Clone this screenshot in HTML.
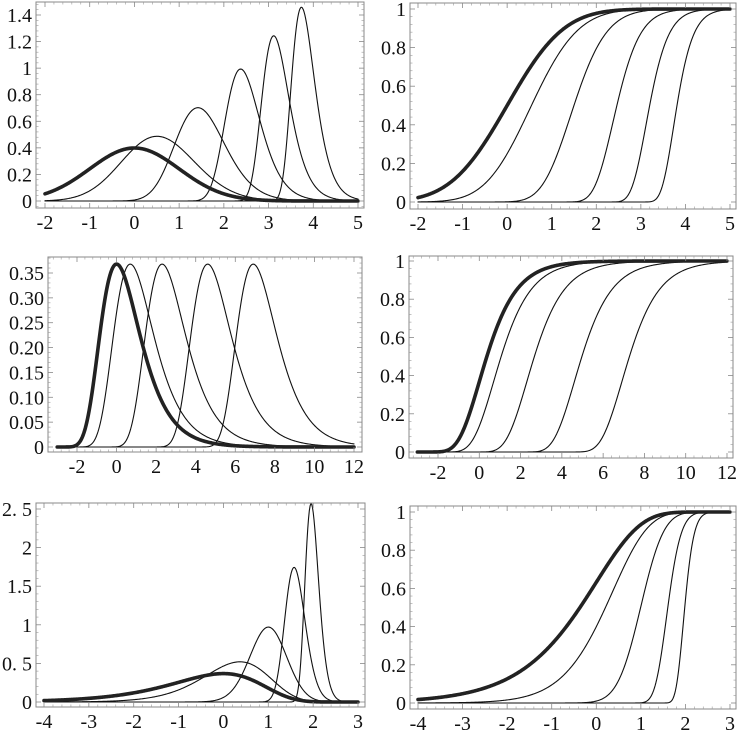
<!DOCTYPE html>
<html><head><meta charset="utf-8"><style>
body{margin:0;background:#fff;}
svg{display:block;}
.lbl{font-family:"Liberation Serif","Times New Roman",serif;font-size:20px;fill:#111;}
</style></head><body>
<svg id="c" width="738" height="738" viewBox="0 0 738 738"></svg>
<script>
// Data: sample sizes n for max-of-n distributions
const nTop = [1, 2, 10, 100, 1000, 10000];
const nMid = [1, 2, 10, 100, 1000];
const nBot = [1, 2, 10, 100, 1000];
// tick labels
const xTicksTop = [-2, -1, 0, 1, 2, 3, 4, 5];
const yTicksTopL = [0, 0.2, 0.4, 0.6, 0.8, 1, 1.2, 1.4];
const yLabTopL = ["0", "0.2", "0.4", "0.6", "0.8", "1", "1.2", "1.4"];
const yTicksCdf = [0, 0.2, 0.4, 0.6, 0.8, 1];
const yLabCdf = ["0", "0.2", "0.4", "0.6", "0.8", "1"];
const xTicksMid = [-2, 0, 2, 4, 6, 8, 10, 12];
const yTicksMidL = [0, 0.05, 0.1, 0.15, 0.2, 0.25, 0.3, 0.35];
const yLabMidL = ["0", "0.05", "0.10", "0.15", "0.20", "0.25", "0.30", "0.35"];
const xTicksBot = [-4, -3, -2, -1, 0, 1, 2, 3];
const yTicksBotL = [0, 0.5, 1, 1.5, 2, 2.5];
const yLabBotL = ["0", "0. 5", "1", "1.5", "2", "2. 5"];

const NS = "http://www.w3.org/2000/svg";
const svg = document.getElementById("c");
function mk(tag, attrs, parent) { const e = document.createElementNS(NS, tag); for (const k in attrs) e.setAttribute(k, attrs[k]); (parent || svg).appendChild(e); return e; }

function erf(x){const s=x<0?-1:1;x=Math.abs(x);const t=1/(1+0.3275911*x);const y=1-(((((1.061405429*t-1.453152027)*t)+1.421413741)*t-0.284496736)*t+0.254829592)*t*Math.exp(-x*x);return s*y;}
const normPdf=x=>Math.exp(-x*x/2)/Math.sqrt(2*Math.PI);
const normCdf=x=>0.5*(1+erf(x/Math.SQRT2));
const gumPdf=x=>Math.exp(-x-Math.exp(-x));
const gumCdf=x=>Math.exp(-Math.exp(-x));
const mgPdf=x=>Math.exp(x-Math.exp(x));
const mgCdf=x=>1-Math.exp(-Math.exp(x));
function maxPdf(pdf,cdf,n){return x=>n*Math.pow(cdf(x),n-1)*pdf(x);}
function maxCdf(cdf,n){return x=>Math.pow(cdf(x),n);}

const panels = [
 {name:"top-left-density", fl:36,fr:364,ft:2,fb:208, xa:-2,xpa:45,xb:5,xpb:358, ya:0,ypa:201,yb:1.4,ypb:15, xt:xTicksTop, xl:xTicksTop.map(String), yt:yTicksTopL, yl:yLabTopL, xmin:-2,xmax:5, ns:nTop, f:n=>maxPdf(normPdf,normCdf,n)},
 {name:"top-right-cdf", fl:410,fr:736,ft:3,fb:209, xa:-2,xpa:418,xb:5,xpb:730, ya:0,ypa:202,yb:1,ypb:9, xt:xTicksTop, xl:xTicksTop.map(String), yt:yTicksCdf, yl:yLabCdf, xmin:-2,xmax:5, ns:nTop, f:n=>maxCdf(normCdf,n)},
 {name:"middle-left-density", fl:48,fr:362,ft:257,fb:452, xa:-2,xpa:77,xb:12,xpb:354, ya:0,ypa:447,yb:0.35,ypb:273, xt:xTicksMid, xl:xTicksMid.map(String), yt:yTicksMidL, yl:yLabMidL, xmin:-3,xmax:12, ns:nMid, f:n=>maxPdf(gumPdf,gumCdf,n)},
 {name:"middle-right-cdf", fl:409,fr:733,ft:256,fb:458, xa:-2,xpa:438,xb:12,xpb:727, ya:0,ypa:452,yb:1,ypb:261, xt:xTicksMid, xl:xTicksMid.map(String), yt:yTicksCdf, yl:yLabCdf, xmin:-3,xmax:12, ns:nMid, f:n=>maxCdf(gumCdf,n)},
 {name:"bottom-left-density", fl:36,fr:365,ft:503,fb:707, xa:-4,xpa:44,xb:3,xpb:358, ya:0,ypa:702,yb:2.5,ypb:509, xt:xTicksBot, xl:xTicksBot.map(String), yt:yTicksBotL, yl:yLabBotL, xmin:-4,xmax:3, ns:nBot, f:n=>maxPdf(mgPdf,mgCdf,n)},
 {name:"bottom-right-cdf", fl:410,fr:736,ft:506,fb:709, xa:-4,xpa:418,xb:3,xpb:730, ya:0,ypa:703,yb:1,ypb:512, xt:xTicksBot, xl:xTicksBot.map(String), yt:yTicksCdf, yl:yLabCdf, xmin:-4,xmax:3, ns:nBot, f:n=>maxCdf(mgCdf,n)}
];

panels.forEach(p=>{
  const g = mk("g",{});
  
  
  const sx = v=>p.xpa+(v-p.xa)*(p.xpb-p.xpa)/(p.xb-p.xa);
  const sy = v=>p.ypa+(v-p.ya)*(p.ypb-p.ypa)/(p.yb-p.ya);
  const order = p.ns.map((n,i)=>i).reverse();
  order.forEach(i=>{
    const fn = p.f(p.ns[i]); const N=400; let d="";
    for(let k=0;k<=N;k++){const x=p.xmin+(p.xmax-p.xmin)*k/N;let y=fn(x);if(!isFinite(y))y=0;d+=(k?"L":"M")+sx(x).toFixed(2)+","+sy(y).toFixed(2);}
    const path = mk("path",{d:d,fill:"none",stroke:i===0?"#222":"#111","stroke-width":i===0?3.6:1.1,"stroke-linejoin":"round","stroke-linecap":"round"},g);
    
    
  });
  const fr = mk("rect",{x:p.fl,y:p.ft,width:p.fr-p.fl,height:p.fb-p.ft,fill:"none",stroke:"#888","stroke-width":1},g);
  
  
  const xs = p.xt; const dx = xs[1]-xs[0];
  for(let i=0;i<xs.length;i++){
    const X=sx(xs[i]);
    mk("line",{x1:X,x2:X,y1:p.fb,y2:p.fb-5,stroke:"#888","stroke-width":0.8},g);
    mk("line",{x1:X,x2:X,y1:p.ft,y2:p.ft+5,stroke:"#888","stroke-width":0.8},g);
    const t = mk("text",{x:X,y:p.fb+21,"text-anchor":"middle","class":"lbl",style:"font-family:'Liberation Serif',serif;font-size:20px"},g);
    t.textContent=p.xl[i];
    
    
    for(let m=-4;m<5;m++){ if(m===0) continue; const v=xs[i]+m*dx/5; if(m<0&&i>0) continue; const XX=sx(v); if(XX<p.fl+1||XX>p.fr-1) continue;
      mk("line",{x1:XX,x2:XX,y1:p.fb,y2:p.fb-2.5,stroke:"#999","stroke-width":0.6},g);
      mk("line",{x1:XX,x2:XX,y1:p.ft,y2:p.ft+2.5,stroke:"#999","stroke-width":0.6},g);}
  }
  const ys = p.yt; const dy = ys[1]-ys[0];
  for(let i=0;i<ys.length;i++){
    const Y=sy(ys[i]);
    mk("line",{x1:p.fl,x2:p.fl+5,y1:Y,y2:Y,stroke:"#888","stroke-width":0.8},g);
    mk("line",{x1:p.fr,x2:p.fr-5,y1:Y,y2:Y,stroke:"#888","stroke-width":0.8},g);
    const t = mk("text",{x:p.fl-4,y:Y+7,"text-anchor":"end","class":"lbl",style:"font-family:'Liberation Serif',serif;font-size:20px"},g);
    t.textContent=p.yl[i];
    
    
    for(let m=-4;m<5;m++){ if(m===0) continue; if(m<0&&i>0) continue; const YY=sy(ys[i]+m*dy/5); if(YY<p.ft+1||YY>p.fb-1) continue;
      mk("line",{x1:p.fl,x2:p.fl+2.5,y1:YY,y2:YY,stroke:"#999","stroke-width":0.6},g);
      mk("line",{x1:p.fr,x2:p.fr-2.5,y1:YY,y2:YY,stroke:"#999","stroke-width":0.6},g);}
  }
});
</script>
</body></html>
